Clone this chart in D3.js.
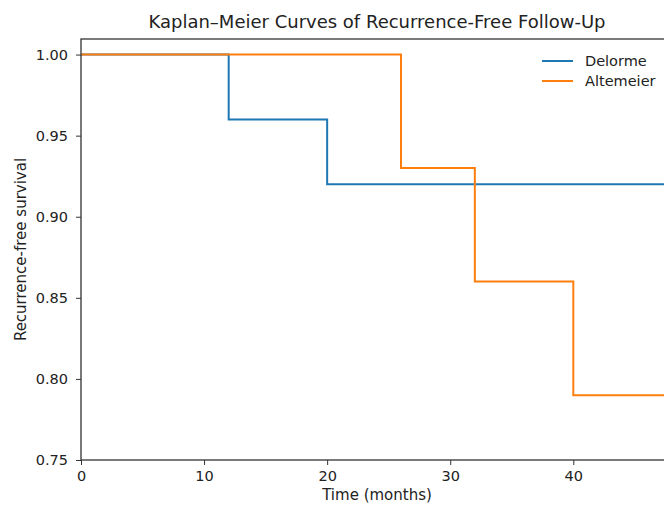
<!DOCTYPE html>
<html>
<head>
<meta charset="utf-8">
<script src="https://cdn.jsdelivr.net/npm/d3@7"></script>
<style>
  body { margin: 0; background: #fff; }
  svg { display: block; font-family: "DejaVu Sans", sans-serif; }
  .tick line { stroke: #333; }
</style>
</head>
<body>
<script>
// Kaplan-Meier step data (time in months, survival)
var series_names = ["Delorme", "Altemeier"];
var series_colors = ["#1f77b4", "#ff7f0e"];
var delorme_time = [0, 12, 20, 50];
var delorme_surv = [1.00, 0.96, 0.92, 0.92];
var altemeier_time = [0, 26, 32, 40, 50];
var altemeier_surv = [1.00, 0.93, 0.86, 0.79, 0.79];
var x_ticks = [0, 10, 20, 30, 40];
var y_ticks = [0.75, 0.80, 0.85, 0.90, 0.95, 1.00];

var w = 664, h = 505;
var left = 81, top_ = 39, right = 673, bottom = 460;

var svg = d3.select("body").append("svg")
    .attr("width", w)
    .attr("height", h);

var x = d3.scaleLinear().domain([0, 48.1]).range([left, right]);
var y = d3.scaleLinear().domain([0.75, 1.0096]).range([bottom, top_]);

var plot = svg.append("g");

var lineFn = d3.line()
    .x(function(d) { return x(d[0]); })
    .y(function(d) { return y(d[1]); })
    .curve(d3.curveStepAfter);

var all = [
    d3.zip(delorme_time, delorme_surv),
    d3.zip(altemeier_time, altemeier_surv)
];

all.forEach(function(pts, i) {
    plot.append("path")
        .datum(pts)
        .attr("d", lineFn)
        .attr("fill", "none")
        .attr("stroke", series_colors[i])
        .attr("stroke-width", 2);
});

// axes
var xAxis = svg.append("g")
    .attr("transform", "translate(0," + bottom + ")")
    .call(d3.axisBottom(x).tickValues(x_ticks).tickSize(5).tickPadding(6).tickFormat(d3.format("d")));
var yAxis = svg.append("g")
    .attr("transform", "translate(" + left + ",0)")
    .call(d3.axisLeft(y).tickValues(y_ticks).tickSize(5).tickPadding(8).tickFormat(d3.format(".2f")));
xAxis.select(".domain").remove();
yAxis.select(".domain").remove();
[xAxis, yAxis].forEach(function(a) {
    a.attr("font-family", null).attr("font-size", null);
    a.selectAll(".tick text").style("font-size", "14.5px").attr("fill", "#222");
});

// spines
svg.append("rect")
    .attr("x", left).attr("y", top_)
    .attr("width", right - left).attr("height", bottom - top_)
    .attr("fill", "none")
    .attr("stroke", "#333")
    .attr("stroke-width", 1.3);

// title + labels
svg.append("text")
    .attr("x", (left + right) / 2).attr("y", 28)
    .attr("text-anchor", "middle")
    .style("font-size", "18px").attr("fill", "#222")
    .text("Kaplan\u2013Meier Curves of Recurrence-Free Follow-Up");

svg.append("text")
    .attr("x", (left + right) / 2).attr("y", 500)
    .attr("text-anchor", "middle")
    .style("font-size", "15px").attr("fill", "#222")
    .text("Time (months)");

svg.append("text")
    .attr("transform", "translate(26," + ((top_ + bottom) / 2) + ") rotate(-90)")
    .attr("text-anchor", "middle")
    .style("font-size", "15px").attr("fill", "#222")
    .text("Recurrence-free survival");

// legend
var legend = svg.append("g");
series_names.forEach(function(name, i) {
    var ly = 61 + i * 20;
    legend.append("line")
        .attr("x1", 542).attr("x2", 573)
        .attr("y1", ly).attr("y2", ly)
        .attr("stroke", series_colors[i])
        .attr("stroke-width", 2);
    legend.append("text")
        .attr("x", 585).attr("y", ly + 5)
        .style("font-size", "14.5px").attr("fill", "#222")
        .text(name);
});
</script>
</body>
</html>
